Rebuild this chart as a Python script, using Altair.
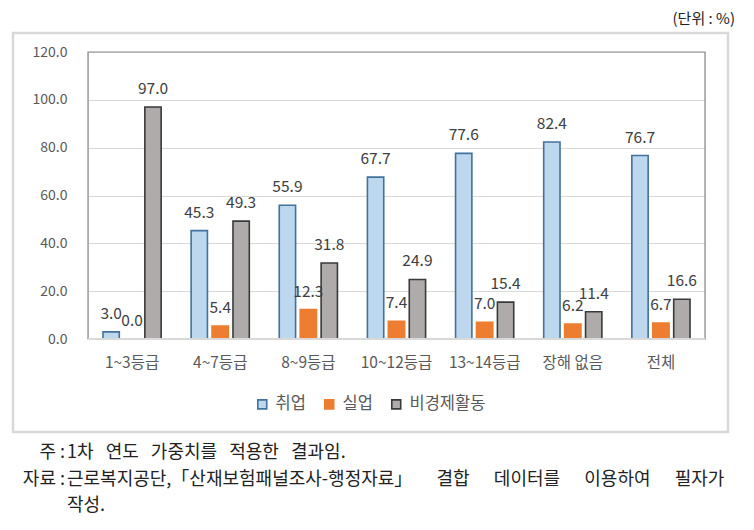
import altair as alt
import pandas as pd

categories = ["1~3등급", "4~7등급", "8~9등급", "10~12등급", "13~14등급", "장해 없음", "전체"]
statuses = ["취업", "실업", "비경제활동"]
employed = [3.0, 45.3, 55.9, 67.7, 77.6, 82.4, 76.7]
unemployed = [0.0, 5.4, 12.3, 7.4, 7.0, 6.2, 6.7]
inactive = [97.0, 49.3, 31.8, 24.9, 15.4, 11.4, 16.6]
y_ticks = [0, 20, 40, 60, 80, 100, 120]

fill_colors = ["#BDD7EE", "#ED7D31", "#AFABAB"]
stroke_colors = ["#41719C", "#ED7D31", "#3A3A3A"]

unit_text = "(단위 : %)"
note_prefixes = ["주 :", "자료 :", ""]
note_words = [
    ["1차", "연도", "가중치를", "적용한", "결과임."],
    ["근로복지공단,「산재보험패널조사-행정자료」", "결합", "데이터를", "이용하여", "필자가"],
    ["작성."],
]
gap_widths = [3, 6, 1]  # non-breaking spaces between words (justified look)
note_lines = [("\u00a0" * g).join(w) for w, g in zip(note_words, gap_widths)]

rows = []
for i, c in enumerate(categories):
    for s, vals in zip(statuses, [employed, unemployed, inactive]):
        rows.append({"cat": c, "status": s, "value": vals[i]})
df = pd.DataFrame(rows)

FONT = "Noto Sans CJK KR"

x_enc = alt.X("cat:N", sort=categories, title=None,
              scale=alt.Scale(paddingInner=0.34, paddingOuter=0.17),
              axis=alt.Axis(labelAngle=0, ticks=False, domain=False, labelPadding=16,
                            labelFontSize=15.5, labelColor="#595959", labelFont=FONT))
xo_enc = alt.XOffset("status:N", sort=statuses,
                     scale=alt.Scale(paddingInner=0.22, paddingOuter=0.0))
y_enc = alt.Y("value:Q", title=None,
              scale=alt.Scale(domain=[0, 120], nice=False),
              axis=alt.Axis(values=y_ticks, format=".1f", ticks=False, domain=False,
                            labelPadding=21, labelFontSize=14, labelColor="#595959",
                            labelFont=FONT, gridColor="#D9D9D9", gridWidth=1.2))

legend = alt.Legend(title=None, orient="none", direction="horizontal",
                    legendX=166, legendY=344, symbolType="square", symbolSize=80,
                    symbolStrokeWidth=1.6, labelFontSize=16.5, labelColor="#595959",
                    labelFont=FONT, columnPadding=15, labelOffset=5)

bars = alt.Chart(df).mark_bar(strokeWidth=1.6).encode(
    x=x_enc, xOffset=xo_enc, y=y_enc,
    fill=alt.Fill("status:N", sort=statuses,
                  scale=alt.Scale(domain=statuses, range=fill_colors), legend=legend),
    stroke=alt.Stroke("status:N", sort=statuses,
                      scale=alt.Scale(domain=statuses, range=stroke_colors), legend=legend),
)

labels = alt.Chart(df).mark_text(baseline="middle", dy=-18, fontSize=15.5,
                                 color="#404040", font=FONT).encode(
    x=alt.X("cat:N", sort=categories), xOffset=alt.XOffset("status:N", sort=statuses),
    y="value:Q", text=alt.Text("value:Q", format=".1f"))

frame = alt.Chart(pd.DataFrame({"k": [0]})).mark_rect(
    fill=None, stroke="#D9D9D9", strokeWidth=2.5).encode(
    x=alt.value(-75), x2=alt.value(640), y=alt.value(-19), y2=alt.value(380))

plot_border = alt.Chart(pd.DataFrame({"k": [0]})).mark_rect(
    fill=None, stroke="#8C8C8C", strokeWidth=1.2).encode(
    x=alt.value(0), x2=alt.value(617), y=alt.value(0), y2=alt.value(287))

base_line = alt.Chart(pd.DataFrame({"k": [0]})).mark_rule(
    stroke="#D9D9D9", strokeWidth=2).encode(
    x=alt.value(0), x2=alt.value(617), y=alt.value(287))

unit = alt.Chart(pd.DataFrame({"t": [unit_text]})).mark_text(
    align="right", baseline="middle", fontSize=15, color="#222222", font=FONT).encode(
    x=alt.value(647), y=alt.value(-33), text="t:N")

note_df = pd.DataFrame({"p": note_prefixes, "t": note_lines, "row": [0, 1, 2]})
row_y = alt.Y("row:Q", axis=None, scale=alt.Scale(domain=[0, 2], range=[401, 454]))
prefix = alt.Chart(note_df).mark_text(
    align="right", baseline="middle", fontSize=18, color="#222222", font=FONT).encode(
    x=alt.value(-23), y=row_y, text="p:N")
notes = alt.Chart(note_df).mark_text(
    align="left", baseline="middle", fontSize=18, color="#222222", font=FONT).encode(
    x=alt.value(-21), y=row_y, text="t:N")

main = alt.layer(plot_border, bars, labels, base_line).resolve_scale()
chart = alt.layer(frame, main, unit, prefix, notes).resolve_scale(y="independent").properties(
    width=617, height=287,
    padding={"left": 80, "top": 44, "right": 41, "bottom": 183},
    autosize=alt.AutoSizeParams(type="none"),
).configure_view(stroke=None).configure(background="white")

chart.save("out.html", embed_options={"renderer": "svg", "actions": False})
